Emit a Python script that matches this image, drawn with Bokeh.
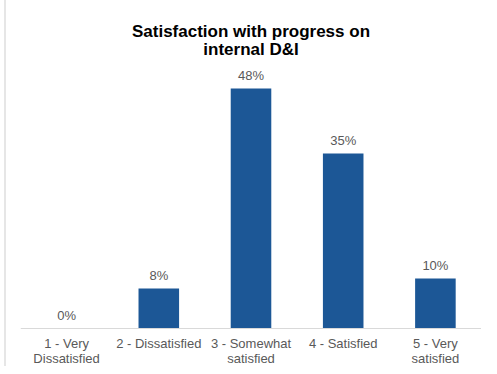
from bokeh.plotting import figure
from bokeh.models import ColumnDataSource, Range1d, FactorRange, Label, Span
from bokeh.embed import file_html
from bokeh.resources import INLINE
from bokeh.core.properties import value

categories = ["1 - Very\nDissatisfied", "2 - Dissatisfied", "3 - Somewhat\nsatisfied", "4 - Satisfied", "5 - Very\nsatisfied"]
values = [0, 8, 48, 35, 10]
labels = ["0%", "8%", "48%", "35%", "10%"]
title_lines = ["Satisfaction with progress on", "internal D&I"]

src = ColumnDataSource(dict(cat=categories, val=values, lab=labels, base=[0] * len(categories)))

FONT = "Liberation Sans"

p = figure(x_range=FactorRange(*categories), y_range=Range1d(-7.6, 65.6),
           width=481, height=366, output_backend="svg", toolbar_location=None,
           min_border_left=20, min_border_right=0, min_border_bottom=0, min_border_top=0,
           title=None, border_fill_color=None, x_axis_location=None, y_axis_location=None,
           styles={"box-shadow": "inset 4px 0 0 0 white, inset 6px 0 0 0 #e6e6e6, 0 -1px 0 0 #e6e6e6"})

# title, two centred lines over the middle of the categorical range
x_mid = len(categories) / 2
for line, ypix in zip(title_lines, [335, 317]):
    p.add_layout(Label(x=x_mid, y=ypix, y_units="screen", text=line, text_align="center",
                       text_baseline="alphabetic", text_font=FONT, text_font_size="17px",
                       text_font_style="bold", text_color="#000000"))

p.vbar(x="cat", top="val", width=0.44, source=src, color="#1c5796", line_color=None)
p.text(x="cat", y="val", text="lab", source=src, text_align="center", text_baseline="alphabetic",
       y_offset=-13, text_font=value(FONT), text_font_size="13px", text_color="#595959")

# category axis: baseline and labels
p.add_layout(Span(location=0, dimension="width", line_color="#d9d9d9", line_width=1))
p.text(x="cat", y="base", text="cat", source=src, text_align="center", text_baseline="top",
       y_offset=7, text_font=value(FONT), text_font_size="13px", text_color="#595959",
       text_line_height=1.05)

p.xgrid.grid_line_color = None
p.ygrid.grid_line_color = None
p.outline_line_color = None

open("out.html", "w").write(file_html(p, INLINE))
